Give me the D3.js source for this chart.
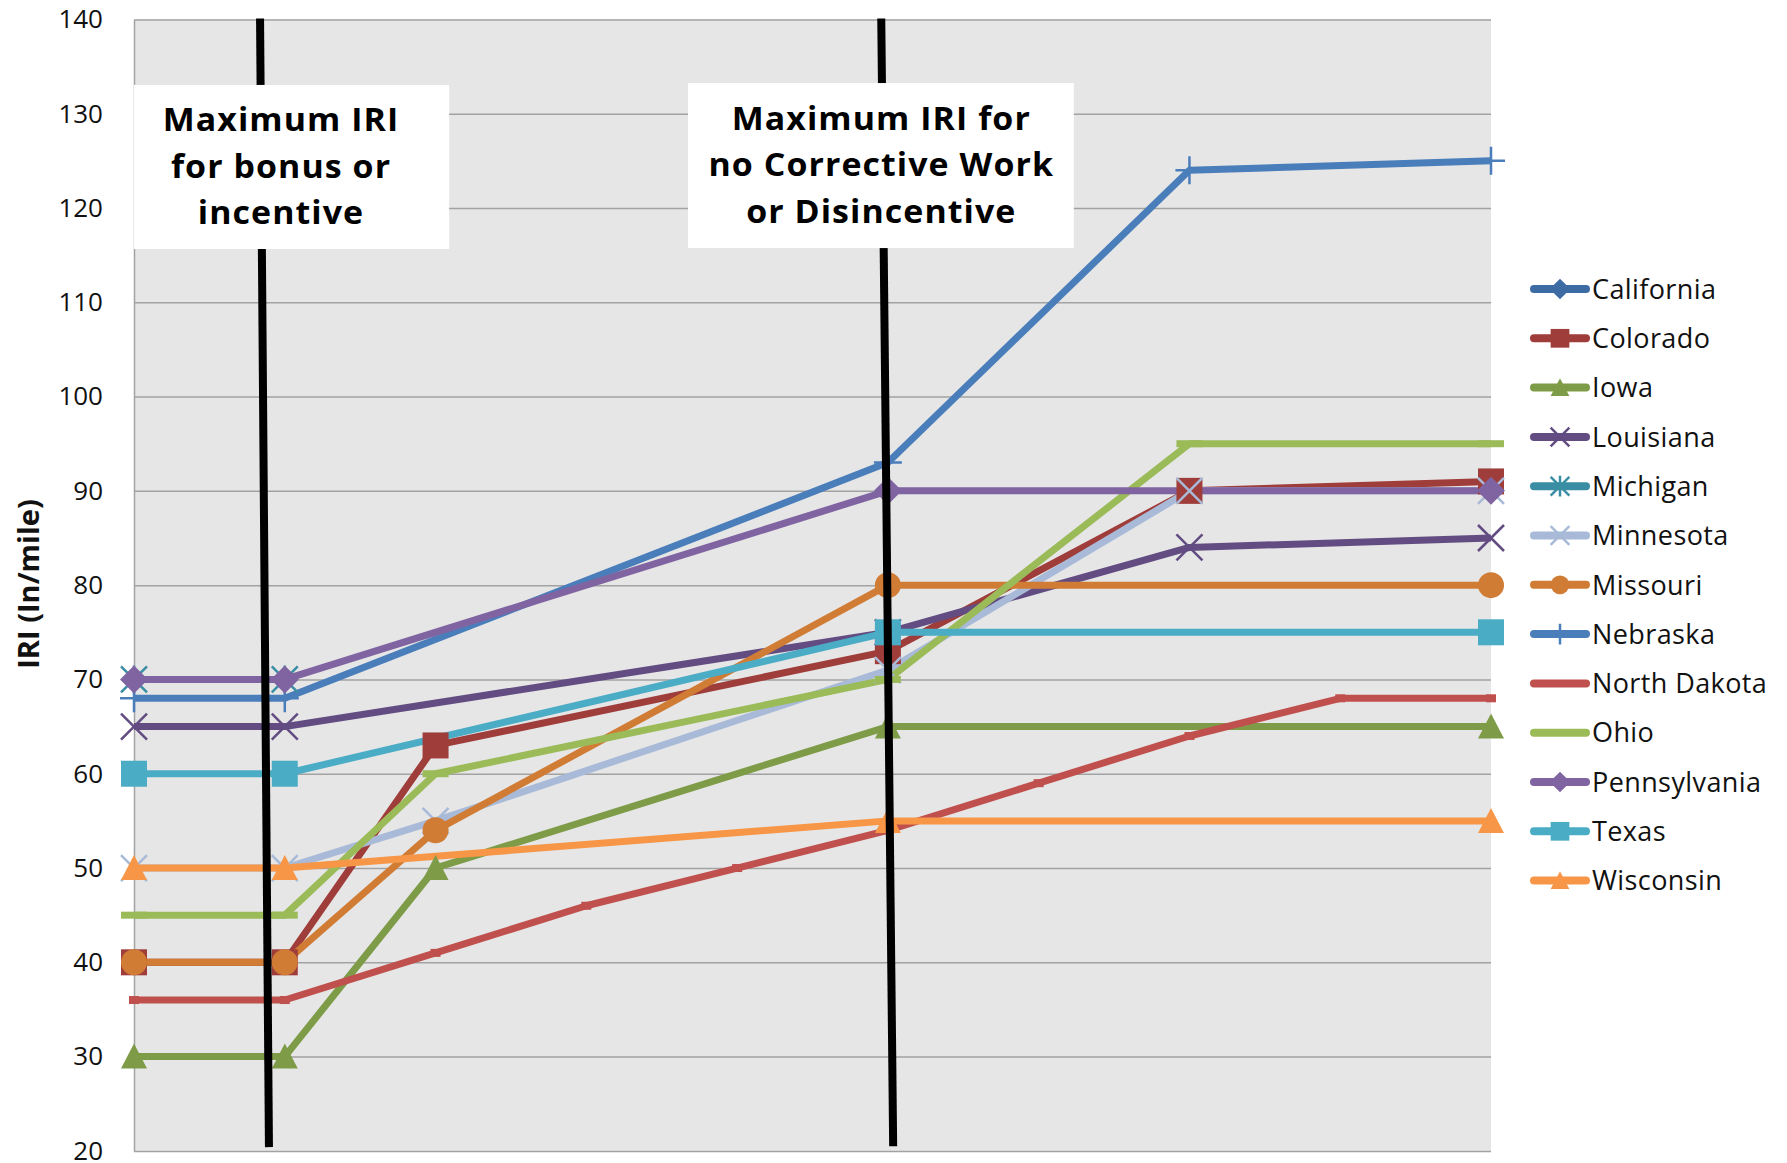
<!DOCTYPE html>
<html>
<head>
<meta charset="utf-8">
<script src="https://cdn.jsdelivr.net/npm/d3@7/dist/d3.min.js"></script>
<style>
  body { margin: 0; background: #ffffff; }
  text { font-family: "Open Sans", sans-serif; }
</style>
</head>
<body>
<div id="chart"></div>
<script>

// x positions carry no labels in the original, they are just steps
var categories = ["1", "2", "3", "4", "5", "6", "7", "8", "9", "10"];
var yTicks = [20, 30, 40, 50, 60, 70, 80, 90, 100, 110, 120, 130, 140];

var states = ["California", "Colorado", "Iowa", "Louisiana", "Michigan", "Minnesota", "Missouri",
  "Nebraska", "North Dakota", "Ohio", "Pennsylvania", "Texas", "Wisconsin"];

var california   = [null, null, null, null, null, null, null, null, null, null];
var colorado     = [40, 40, 63, null, null, 73, null, 90, null, 91];
var iowa         = [30, 30, 50, null, null, 65, null, null, null, 65];
var louisiana    = [65, 65, null, null, null, 75, null, 84, null, 85];
var michigan     = [70, 70, null, null, null, null, null, null, null, null];
var minnesota    = [50, 50, 55, null, null, 71, null, 90, null, 90];
var missouri     = [40, 40, 54, null, null, 80, null, null, null, 80];
var nebraska     = [68, 68, null, null, null, 93, null, 124, null, 125];
var northDakota  = [36, 36, 41, 46, 50, 54, 59, 64, 68, 68];
var ohio         = [45, 45, 60, null, null, 70, null, 95, null, 95];
var pennsylvania = [70, 70, null, null, null, 90, null, null, null, 90];
var texas        = [60, 60, null, null, null, 75, null, null, null, 75];
var wisconsin    = [50, 50, null, null, null, 55, null, null, null, 55];

var seriesValues = [california, colorado, iowa, louisiana, michigan, minnesota, missouri,
  nebraska, northDakota, ohio, pennsylvania, texas, wisconsin];

var boxTexts = [
  ["Maximum IRI", "for bonus or", "incentive"],
  ["Maximum IRI for", "no Corrective Work", "or Disincentive"]
];

// look of each series (same order as states)
var colors = ["#3d6ca5", "#9f3d3a", "#7e9c47", "#624c82", "#3a8ea4", "#a8bad8", "#d07c35",
  "#4a7ebb", "#c0504d", "#9bbb59", "#8064a2", "#4bacc6", "#f79646"];
var markers = ["diamond", "square", "triangle", "x", "star", "x", "circle",
  "plus", "shortdash", "dash", "diamond", "square", "triangle"];

var width = 1787, height = 1163;
var margin = { top: 19.4, left: 134 };
var plotW = 1357, plotH = 1131.5;

var svg = d3.select("#chart").append("svg")
  .attr("width", width)
  .attr("height", height);

svg.append("rect").attr("width", width).attr("height", height).style("fill", "#ffffff");

var chart = svg.append("g")
  .attr("transform", "translate(" + margin.left + "," + margin.top + ")");

var x = d3.scalePoint().domain(categories).range([0, plotW]);
var y = d3.scaleLinear().domain([20, 140]).range([plotH, 0]);
// fractional step scale, only for the hand drawn notes
var xStep = d3.scaleLinear().domain([0, categories.length - 1]).range([0, plotW]);

chart.append("rect")
  .attr("width", plotW)
  .attr("height", plotH)
  .style("fill", "#e6e6e6");

var yAxis = chart.append("g")
  .call(d3.axisLeft(y).tickValues(yTicks).tickSize(-plotW).tickSizeOuter(0).tickPadding(31));

yAxis.selectAll(".tick line").style("stroke", "#a2a2a2").style("stroke-width", 1.5);
yAxis.select(".domain").style("stroke", "#a2a2a2").style("stroke-width", 1.5);
yAxis.selectAll(".tick text")
  .style("font-size", "26px")
  .style("font-family", "Open Sans")
  .style("fill", "#111");

svg.append("text")
  .attr("transform", "translate(29,584) rotate(-90)")
  .attr("dy", "0.36em")
  .style("text-anchor", "middle")
  .style("font-size", "29px")
  .style("font-weight", "bold")
  .style("fill", "#111")
  .text("IRI (In/mile)");

function drawMarker(sel, type, color, k) {
  var s = 13 * k;
  if (type == "square") {
    sel.append("rect").attr("x", -s).attr("y", -s).attr("width", 2 * s).attr("height", 2 * s)
      .style("fill", color);
  } else if (type == "diamond") {
    sel.append("path").attr("d", "M0," + (-s - 1) + "L" + (s + 1) + ",0L0," + (s + 1) + "L" + (-s - 1) + ",0Z")
      .style("fill", color);
  } else if (type == "triangle") {
    sel.append("path").attr("d", "M0," + (-s) + "L" + s + "," + (s - 1) + "L" + (-s) + "," + (s - 1) + "Z")
      .style("fill", color);
  } else if (type == "circle") {
    sel.append("circle").attr("r", s).style("fill", color);
  } else if (type == "x" || type == "star" || type == "plus") {
    var d = "";
    if (type != "plus") d += "M" + (-s) + "," + (-s) + "L" + s + "," + s + "M" + (-s) + "," + s + "L" + s + "," + (-s);
    if (type != "x") d += "M0," + (-s - 1) + "L0," + (s + 1);
    if (type == "plus") d += "M" + (-s - 1) + ",0L" + (s + 1) + ",0";
    sel.append("path").attr("d", d)
      .style("fill", "none").style("stroke", color).style("stroke-width", 2.5);
  } else if (type == "dash") {
    sel.append("rect").attr("x", -s).attr("y", -3.5).attr("width", 2 * s).attr("height", 7)
      .style("fill", color);
  } else if (type == "shortdash") {
    sel.append("rect").attr("x", -5).attr("y", -4).attr("width", 10).attr("height", 8)
      .style("fill", color);
  }
}

var series = states.map(function (name, i) {
  var pts = seriesValues[i].map(function (v, j) {
    return { cat: categories[j], value: v };
  }).filter(function (d) { return d.value !== null; });
  return { name: name, color: colors[i], marker: markers[i], points: pts };
});

var line = d3.line()
  .x(function (d) { return x(d.cat); })
  .y(function (d) { return y(d.value); });

// all lines first, markers on top (like the spreadsheet does)
chart.selectAll(".series-line")
  .data(series).enter()
  .append("path")
  .attr("class", "series-line")
  .attr("d", function (d) { return d.points.length ? line(d.points) : null; })
  .style("fill", "none")
  .style("stroke", function (d) { return d.color; })
  .style("stroke-width", 7)
  .style("stroke-linejoin", "round");

series.forEach(function (s) {
  chart.selectAll(null)
    .data(s.points).enter()
    .append("g")
    .attr("transform", function (d) { return "translate(" + x(d.cat) + "," + y(d.value) + ")"; })
    .each(function () { drawMarker(d3.select(this), s.marker, s.color, 1); });
});

// hand drawn notes: two black dividers and two white boxes
var dividers = [
  { x1: 0.836, y1: 140.1, x2: 0.895, y2: 20.4 },
  { x1: 4.956, y1: 140.1, x2: 5.035, y2: 20.5 }
];
var boxes = [
  { x0: 0, x1: 2.09, top: 133.05, bottom: 115.65, cx: 0.975 },
  { x0: 3.674, x1: 6.233, top: 133.25, bottom: 115.75, cx: 4.956 }
];

chart.selectAll(".divider")
  .data(dividers).enter()
  .append("line")
  .attr("class", "divider")
  .attr("x1", function (d) { return xStep(d.x1); })
  .attr("y1", function (d) { return y(d.y1); })
  .attr("x2", function (d) { return xStep(d.x2); })
  .attr("y2", function (d) { return y(d.y2); })
  .style("stroke", "#000")
  .style("stroke-width", 8);

var note = chart.selectAll(".note")
  .data(boxes).enter()
  .append("g").attr("class", "note");

note.append("rect")
  .attr("x", function (d) { return xStep(d.x0); })
  .attr("y", function (d) { return y(d.top); })
  .attr("width", function (d) { return xStep(d.x1) - xStep(d.x0); })
  .attr("height", function (d) { return y(d.bottom) - y(d.top); })
  .style("fill", "#ffffff");

note.each(function (d, i) {
  d3.select(this).selectAll("text")
    .data(boxTexts[i]).enter()
    .append("text")
    .attr("transform", function (t, j) {
      return "translate(" + xStep(d.cx) + "," + (y(d.top) + 35 + j * 46.5) + ") scale(1.06,1)";
    })
    .attr("dy", "0.36em")
    .style("text-anchor", "middle")
    .style("font-size", "32px")
    .style("font-weight", "bold")
    .style("letter-spacing", "1px")
    .style("fill", "#000")
    .text(function (t) { return t; });
});

// legend
var legend = svg.selectAll(".legend")
  .data(series).enter()
  .append("g").attr("class", "legend")
  .attr("transform", function (d, i) { return "translate(1531," + (289 + i * 49.3) + ")"; });

legend.append("line")
  .attr("x1", 3).attr("x2", 55)
  .style("stroke", function (d) { return d.color; })
  .style("stroke-width", 8)
  .style("stroke-linecap", "round");

legend.each(function (d) {
  if (d.marker == "dash" || d.marker == "shortdash") return;
  var m = d3.select(this).append("g").attr("transform", "translate(29,0)");
  drawMarker(m, d.marker, d.color, 0.72);
});

legend.append("text")
  .attr("x", 61)
  .attr("dy", "0.36em")
  .style("font-size", "27px")
  .style("letter-spacing", "0.4px")
  .style("fill", "#111")
  .text(function (d) { return d.name; });

</script>
</body>
</html>
